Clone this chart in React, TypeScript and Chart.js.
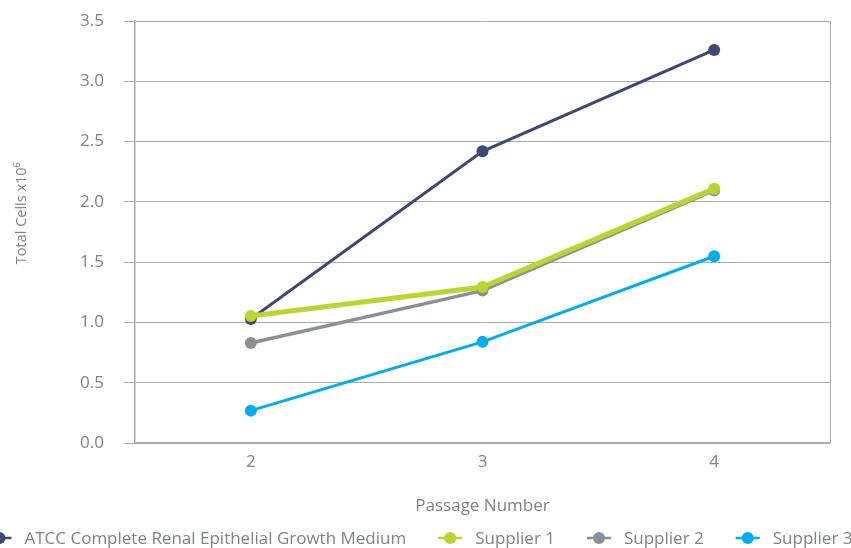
import React, { useEffect, useRef } from "react";
import { Chart, registerables } from "chart.js";

Chart.register(...registerables);

const passages = ["2", "3", "4"];
const seriesNames = [
  "ATCC Complete Renal Epithelial Growth Medium",
  "Supplier 1",
  "Supplier 2",
  "Supplier 3",
];
const atccValues = [1.03, 2.42, 3.26];
const supplier1Values = [1.055, 1.295, 2.11];
const supplier2Values = [0.83, 1.265, 2.095];
const supplier3Values = [0.27, 0.84, 1.55];
const yTicks = [0, 0.5, 1.0, 1.5, 2.0, 2.5, 3.0, 3.5];

const colors = ["#3c4878", "#bdd42f", "#8a9196", "#00aeef"];
const widths = [3, 5, 3.5, 3];
const GRID = "#a8aaad";
const TEXT = "#7f8286";
const FONT = "'Open Sans', sans-serif";
const FS = 17;

const rightBorder = {
  id: "rightBorder",
  beforeDatasetsDraw(chart: any) {
    const { ctx, chartArea } = chart;
    ctx.save();
    ctx.strokeStyle = GRID;
    ctx.lineWidth = 1;
    ctx.beginPath();
    ctx.moveTo(Math.round(chartArea.right) + 0.5, chartArea.top);
    ctx.lineTo(Math.round(chartArea.right) + 0.5, chartArea.bottom);
    ctx.stroke();
    ctx.restore();
  },
};

const bottomLegend = {
  id: "bottomLegend",
  afterDraw(chart: any) {
    const { ctx } = chart;
    const dsets = chart.data.datasets;
    ctx.save();
    ctx.font = `${FS}px ${FONT}`;
    const textW = dsets.map((d: any) => ctx.measureText(d.label).width);
    const iconToText = 25;
    const textToIcon = 44;
    let total = 12;
    textW.forEach((w: number, i: number) => {
      total += iconToText + w + (i < textW.length - 1 ? textToIcon : 0);
    });
    const y = 538;
    let x = 420 - total / 2 + 12;
    dsets.forEach((d: any, i: number) => {
      ctx.strokeStyle = d.borderColor;
      ctx.fillStyle = d.borderColor;
      ctx.lineWidth = 2.5;
      ctx.beginPath();
      ctx.moveTo(x - 12, y);
      ctx.lineTo(x + 12, y);
      ctx.stroke();
      ctx.beginPath();
      ctx.arc(x, y, 6, 0, Math.PI * 2);
      ctx.fill();
      ctx.fillStyle = TEXT;
      ctx.textBaseline = "middle";
      ctx.textAlign = "left";
      ctx.fillText(d.label, x + iconToText, y + 1);
      x += iconToText + textW[i] + textToIcon;
    });
    ctx.restore();
  },
};

export default function App() {
  const ref = useRef<HTMLCanvasElement>(null);
  useEffect(() => {
    const allValues = [atccValues, supplier1Values, supplier2Values, supplier3Values];
    const chart = new Chart(ref.current!, {
      type: "line",
      data: {
        labels: passages,
        datasets: seriesNames.map((name, i) => ({
          label: name,
          data: allValues[i],
          borderColor: colors[i],
          backgroundColor: colors[i],
          borderWidth: widths[i],
          pointRadius: 6,
          pointHoverRadius: 6,
          pointBorderWidth: 0,
          tension: 0,
          order: i === 1 ? 0 : 1,
        })),
      },
      options: {
        animation: false,
        responsive: true,
        maintainAspectRatio: false,
        layout: { padding: { top: 21, right: 21, left: 0, bottom: 32 } },
        plugins: {
          tooltip: { enabled: false },
          legend: { display: false },
        },
        scales: {
          x: {
            type: "category",
            offset: true,
            grid: { display: false },
            border: { display: true, color: GRID, width: 1.5 },
            ticks: { color: TEXT, font: { family: FONT, size: FS }, padding: 1 },
            title: {
              display: true,
              text: "Passage Number",
              color: TEXT,
              font: { family: FONT, size: FS },
              padding: { top: 22, bottom: 0 },
            },
          },
          y: {
            min: 0,
            max: 3.5,
            afterBuildTicks: (scale: any) => {
              scale.ticks = yTicks.map((v) => ({ value: v }));
            },
            afterFit: (scale: any) => {
              scale.width = 135;
              scale.paddingTop = 0;
              scale.paddingBottom = 0;
            },
            grid: { color: GRID, lineWidth: 1, tickLength: 11 },
            border: { display: true, color: GRID, width: 1.5 },
            ticks: {
              color: TEXT,
              font: { family: FONT, size: FS },
              padding: 20,
              callback: (v: any) => Number(v).toFixed(1),
            },
            title: {
              display: true,
              text: "          Total Cells x10⁶",
              color: TEXT,
              font: { family: FONT, size: 14.5 },
              padding: { top: 13, bottom: 0 },
            },
          },
        },
      },
      plugins: [rightBorder, bottomLegend],
    } as any);
    return () => chart.destroy();
  }, []);
  return (
    <div style={{ position: "fixed", left: 0, top: 0, width: 851, height: 548, background: "#fff" }}>
      <canvas ref={ref} />
    </div>
  );
}
